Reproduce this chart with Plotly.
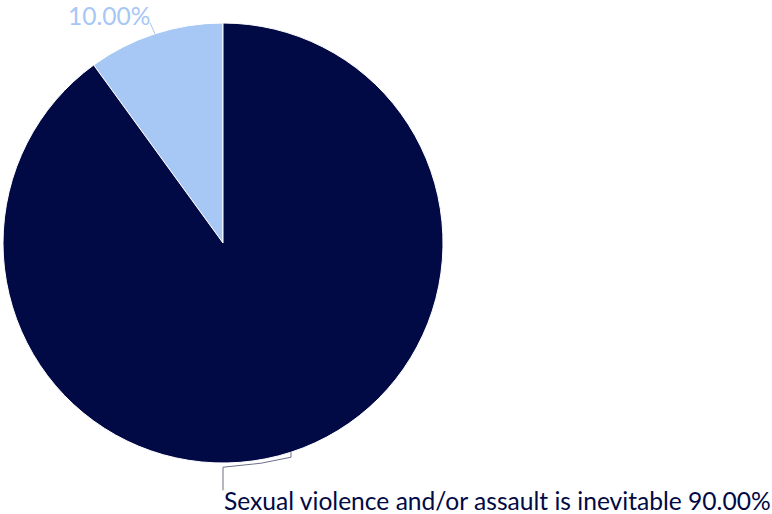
import math
import plotly.graph_objects as go

labels = ["", "Sexual violence and/or assault is inevitable"]
values = [10, 90]
colors = ["#A7C7F4", "#020A45"]

W, H = 772, 514
# pie bounding box in pixels
left, top, size = 3, 23, 440
cx, cy, r = left + size / 2, top + size / 2, size / 2

total = sum(values)
pcts = [v / total * 100 for v in values]

# counterclockwise from 12 o'clock: plotly ends the first slice at `rotation`,
# so rotate back by the first slice's angle
fig = go.Figure(go.Pie(
    labels=labels, values=values, sort=False, direction="counterclockwise",
    rotation=-pcts[0] * 3.6,
    marker=dict(colors=colors, line=dict(color="white", width=1)),
    textinfo="none", hoverinfo="label+percent", showlegend=False,
    domain=dict(x=[left / W, (left + size) / W], y=[(H - top - size) / H, (H - top) / H]),
))


def px(x, y):
    return x / W, 1 - y / H


def mid_point(i, rad):
    start = sum(pcts[:i])
    ang = math.radians((start + pcts[i] / 2) * 3.6)
    return cx - rad * math.sin(ang), cy - rad * math.cos(ang)


shapes = []
annotations = []
FS = 24.6

# small slice label, up-left of its slice
x0, y0 = mid_point(0, r)
x1, y1 = x0 - 5, y0 - 11
shapes.append(dict(type="line", xref="paper", yref="paper",
                   x0=px(x0, y0)[0], y0=px(x0, y0)[1], x1=px(x1, y1)[0], y1=px(x1, y1)[1],
                   line=dict(color=colors[0], width=1)))
annotations.append(dict(text=f"{pcts[0]:.2f}%", xref="paper", yref="paper",
                        x=px(x1 + 3, 15)[0], y=px(0, 15)[1], xanchor="right", yanchor="middle",
                        showarrow=False, font=dict(family="Lato", size=FS, color=colors[0])))

# large slice label, below the pie
x0, y0 = mid_point(1, r)
pts = [(x0, y0), (x0, y0 + 5), (x0 - 30, y0 + 11), (cx, y0 + 15), (cx, y0 + 38)]
path = "M " + " L ".join(f"{px(a, b)[0]},{px(a, b)[1]}" for a, b in pts)
shapes.append(dict(type="path", xref="paper", yref="paper", path=path,
                   line=dict(color="#6C6F8A", width=1)))
annotations.append(dict(text=f"{labels[1]} {pcts[1]:.2f}%", xref="paper", yref="paper",
                        x=px(cx - 1, 0)[0], y=px(0, 500)[1], xanchor="left", yanchor="middle",
                        showarrow=False, font=dict(family="Lato", size=FS, color=colors[1])))

fig.update_layout(
    width=W, height=H, margin=dict(l=0, r=0, t=0, b=0),
    paper_bgcolor="white", plot_bgcolor="white",
    shapes=shapes, annotations=annotations,
)

fig.write_html("out.html")
